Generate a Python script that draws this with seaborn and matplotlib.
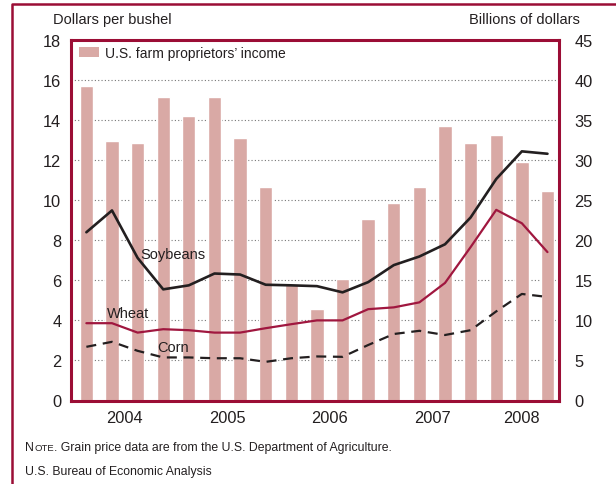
import matplotlib
matplotlib.use("Agg")
import matplotlib.pyplot as plt
from matplotlib.patches import Patch
from matplotlib.lines import Line2D
import seaborn as sns
import numpy as np
import pandas as pd

# ---------------- data ----------------
quarters = ["2004Q1", "2004Q2", "2004Q3", "2004Q4",
            "2005Q1", "2005Q2", "2005Q3", "2005Q4",
            "2006Q1", "2006Q2", "2006Q3", "2006Q4",
            "2007Q1", "2007Q2", "2007Q3", "2007Q4",
            "2008Q1", "2008Q2", "2008Q3"]
income = [39.2, 32.4, 32.2, 37.9, 35.5, 37.9, 32.8, 26.6, 14.6, 11.4,
          15.2, 22.7, 24.6, 26.7, 34.3, 32.2, 33.2, 29.8, 26.2]
soybeans = [8.40, 9.49, 7.12, 5.55, 5.75, 6.34, 6.29, 5.78, 5.75, 5.71,
            5.40, 5.91, 6.76, 7.19, 7.80, 9.14, 11.06, 12.44, 12.32]
wheat = [3.86, 3.86, 3.39, 3.56, 3.51, 3.39, 3.39, 3.61, 3.81, 4.00,
         4.00, 4.56, 4.65, 4.90, 5.87, 7.66, 9.52, 8.85, 7.41]
corn = [2.68, 2.93, 2.48, 2.15, 2.15, 2.11, 2.11, 1.93, 2.11, 2.20,
        2.18, 2.77, 3.32, 3.48, 3.27, 3.51, 4.45, 5.32, 5.17]
years = ["2004", "2005", "2006", "2007", "2008"]
year_quarters = [4, 4, 4, 4, 3]
left_ticks = [0, 2, 4, 6, 8, 10, 12, 14, 16, 18]
right_ticks = [0, 5, 10, 15, 20, 25, 30, 35, 40, 45]

# ---------------- style ----------------
sns.set_style("white")
plt.rcParams["font.family"] = ["Liberation Sans Narrow", "Liberation Sans",
                               "DejaVu Sans"]

RED = "#9b0d35"
LINE_RED = "#a0173f"
BAR = "#d9a9a5"
DARK = "#231f20"
TXT = "#231f20"

fig = plt.figure(figsize=(6.16, 4.85), dpi=100)
W, H = 616, 485
L, R, T, B = 71, 559, 41, 401.5
ax = fig.add_axes([L / W, 1 - B / H, (R - L) / W, (B - T) / H])
ax2 = ax.twinx()

n = len(quarters)
XL = (-0.6, n - 1 + 0.45)

df = pd.DataFrame({"quarter": quarters, "income": income})
sns.barplot(data=df, x="quarter", y="income", ax=ax, color=BAR,
            saturation=1, width=0.52, zorder=2)
ax.set_ylim(0, 45)
ax.set_xlim(*XL)
ax.set_xlabel("")
ax.set_ylabel("")

# grid (dotted) behind bars
ax.set_axisbelow(True)
ax.set_yticks(right_ticks)
ax.yaxis.grid(True, linestyle=(0, (1, 2)), color="#777777", linewidth=0.8)
ax.xaxis.grid(False)
ax.yaxis.tick_right()
ax.set_yticklabels([str(v) for v in right_ticks])
ax.tick_params(axis="y", which="both", length=0, pad=11, labelsize=11.8,
               labelcolor=TXT, left=False, labelleft=False, right=False,
               labelright=True)

# bottom tick marks: small between quarters, tall at year boundaries
bounds = list(np.cumsum(year_quarters)[:-1] - 0.5)
minor_pos = [i + 0.5 for i in range(n - 1) if (i + 0.5) not in bounds]
ax.set_xticks(bounds)
ax.set_xticks(minor_pos, minor=True)
ax.tick_params(axis="x", which="major", direction="in", length=16,
               width=0.9, color="#333333", labelbottom=False)
ax.tick_params(axis="x", which="minor", direction="in", length=7.5,
               width=0.9, color="#333333", labelbottom=False)

# year labels
start = 0
for yr, q in zip(years, year_quarters):
    c = start + (q - 1) / 2
    ax.text(c, -0.025, yr, transform=ax.get_xaxis_transform(), ha="center",
            va="top", fontsize=11.8, color=TXT)
    start += q

for s in ax.spines.values():
    s.set_color(RED)
    s.set_linewidth(2.2)

# lines on twin axis (left scale)
idx = np.arange(n)
sns.lineplot(x=idx, y=soybeans, ax=ax2, color=DARK, linewidth=1.9)
sns.lineplot(x=idx, y=wheat, ax=ax2, color=LINE_RED, linewidth=1.6)
sns.lineplot(x=idx, y=corn, ax=ax2, color=DARK, linewidth=1.6,
             linestyle=(0, (4.5, 3)))
ax2.set_ylim(0, 18)
ax2.set_xlim(*XL)
ax2.set_yticks(left_ticks)
ax2.yaxis.tick_left()
ax2.set_yticklabels([str(v) for v in left_ticks])
ax2.tick_params(axis="y", length=0, pad=7, labelsize=11.8, labelcolor=TXT,
                left=False, labelleft=True, right=False, labelright=False)
ax2.set_ylabel("")
for s in ax2.spines.values():
    s.set_visible(False)

ax2.text(3.37, 7.29, "Soybeans", ha="center", va="center", fontsize=10.5,
         color=TXT)
ax2.text(1.61, 4.35, "Wheat", ha="center", va="center", fontsize=10.5,
         color=TXT)
ax2.text(3.37, 2.66, "Corn", ha="center", va="center", fontsize=10.5,
         color=TXT)

# legend
ax2.legend(handles=[Patch(facecolor=BAR, edgecolor="none")],
           labels=["U.S. farm proprietors\u2019 income"],
           loc="upper left", bbox_to_anchor=((79 - L) / (R - L), 1 - 6 / (B - T)),
           frameon=False, fontsize=10, handlelength=1.45, handleheight=0.8,
           handletextpad=0.45, borderpad=0, borderaxespad=0,
           labelcolor=TXT)

# axis titles
fig.text(53 / W, 1 - 20 / H, "Dollars per bushel", ha="left", va="center",
         fontsize=10.5, color=TXT)
fig.text(580 / W, 1 - 20 / H, "Billions of dollars", ha="right",
         va="center", fontsize=10.5, color=TXT)

# footer notes
fig.canvas.draw()
r = fig.canvas.get_renderer()
t1 = fig.text(25 / W, 1 - 448 / H, "N", ha="left", va="center",
              fontsize=8.8, color=TXT)
bb = t1.get_window_extent(renderer=r)
t2 = fig.text(bb.x1 / W + 0.0005, 1 - 448.8 / H, "OTE", ha="left",
              va="center", fontsize=6.8, color=TXT)
bb2 = t2.get_window_extent(renderer=r)
fig.text((bb2.x1 - 0.3) / W, 1 - 448 / H,
         ". Grain price data are from the U.S. Department of Agriculture.",
         ha="left", va="center", fontsize=8.8, color=TXT)
fig.text(25 / W, 1 - 472 / H, "U.S. Bureau of Economic Analysis", ha="left",
         va="center", fontsize=8.8, color=TXT)

# outer frame (partial)
fig.add_artist(Line2D([12 / W, 12 / W, 1.0], [0.0, 1 - 5 / H, 1 - 5 / H],
                      transform=fig.transFigure, color=RED, linewidth=1.8))

fig.savefig("out.png", dpi=100)
